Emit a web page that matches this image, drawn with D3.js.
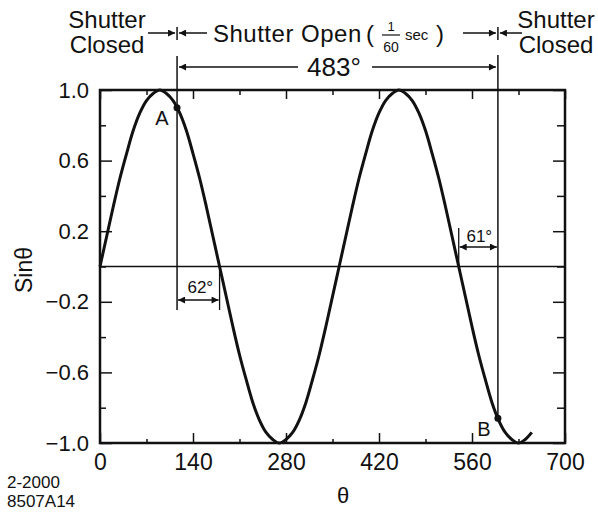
<!DOCTYPE html>
<html>
<head>
<meta charset="utf-8">
<script src="https://cdn.jsdelivr.net/npm/d3@7"></script>
<style>
  body { margin: 0; background: #fff; }
  svg { display: block; }
  text { font-family: "Liberation Sans", Arial, Helvetica, sans-serif; fill: #111; }
</style>
</head>
<body>
<svg id="chart" width="598" height="515"></svg>
<script>
// curve values (theta in degrees, sin theta)
const theta = [0, 10, 20, 30, 40, 50, 60, 70, 80, 90, 100, 110, 120, 130, 140, 150, 160, 170,
  180, 190, 200, 210, 220, 230, 240, 250, 260, 270, 280, 290, 300, 310, 320, 330, 340, 350,
  360, 370, 380, 390, 400, 410, 420, 430, 440, 450, 460, 470, 480, 490, 500, 510, 520, 530,
  540, 550, 560, 570, 580, 590, 600, 610, 620, 630, 640, 650];
const sinTheta = [0, 0.17, 0.34, 0.50, 0.64, 0.77, 0.87, 0.94, 0.98, 1.00, 0.98, 0.94, 0.87, 0.77, 0.64, 0.50, 0.34, 0.17,
  0, -0.17, -0.34, -0.50, -0.64, -0.77, -0.87, -0.94, -0.98, -1.00, -0.98, -0.94, -0.87, -0.77, -0.64, -0.50, -0.34, -0.17,
  0, 0.17, 0.34, 0.50, 0.64, 0.77, 0.87, 0.94, 0.98, 1.00, 0.98, 0.94, 0.87, 0.77, 0.64, 0.50, 0.34, 0.17,
  0, -0.17, -0.34, -0.50, -0.64, -0.77, -0.87, -0.94, -0.98, -1.00, -0.98, -0.94];

const xTickValues = [0, 70, 140, 210, 280, 350, 420, 490, 560, 630, 700];
const xTickLabels = [0, 140, 280, 420, 560, 700];
const yTickValues = [-1, -0.8, -0.6, -0.4, -0.2, 0, 0.2, 0.4, 0.6, 0.8, 1];
const yTickLabels = [1, 0.6, 0.2, -0.2, -0.6, -1];

const pointNames = ['A', 'B'];
const pointTheta = [116, 599];
const pointSin = [0.90, -0.86];

const dimFrom = [116, 540];
const dimTo = [180, 599];
const dimLabels = ['62°', '61°'];
const openLabel = '483°';

const svg = d3.select('#chart');
svg.append('rect').attr('width', 598).attr('height', 515).attr('fill', '#fff');

const x = d3.scaleLinear().domain([0, 700]).range([100, 565]);
const y = d3.scaleLinear().domain([-1, 1]).range([443, 90]);

// arrowhead
svg.append('defs').append('marker')
  .attr('id', 'arrow')
  .attr('viewBox', '0 0 10 10')
  .attr('refX', 10).attr('refY', 5)
  .attr('markerWidth', 9).attr('markerHeight', 7)
  .attr('markerUnits', 'userSpaceOnUse')
  .attr('orient', 'auto-start-reverse')
  .append('path').attr('d', 'M0,0L10,5L0,10Z').attr('fill', '#111');

// axes: ticks point inward, long ones where labelled
const isXMajor = d => xTickLabels.includes(d);
const isYMajor = d => yTickLabels.includes(d);

svg.append('g')
  .attr('transform', `translate(0,${y(-1)})`)
  .call(d3.axisBottom(x).tickValues(xTickValues).tickSize(0).tickFormat(d => isXMajor(d) ? d : ''))
  .call(g => g.select('.domain').remove())
  .call(g => g.selectAll('.tick line').attr('y2', d => isXMajor(d) ? -10 : -4).attr('stroke', '#111').attr('stroke-width', 1.5))
  .call(g => g.selectAll('.tick text').attr('y', 27).attr('dy', 0)
    .attr('font-size', 23).attr('font-family', '"Liberation Sans", Arial, sans-serif').attr('fill', '#111'));

svg.append('g')
  .attr('transform', `translate(0,${y(1)})`)
  .call(d3.axisTop(x).tickValues(xTickValues).tickSize(0).tickFormat(''))
  .call(g => g.select('.domain').remove())
  .call(g => g.selectAll('.tick line').attr('y2', d => isXMajor(d) ? 9 : 5).attr('stroke', '#111').attr('stroke-width', 1.5));

svg.append('g')
  .attr('transform', `translate(${x(0)},0)`)
  .call(d3.axisLeft(y).tickValues(yTickValues).tickSize(0).tickFormat(d => isYMajor(d) ? d3.format('.1f')(d) : ''))
  .call(g => g.select('.domain').remove())
  .call(g => g.selectAll('.tick line').attr('x2', d => isYMajor(d) ? 12 : 6).attr('stroke', '#111').attr('stroke-width', 1.5))
  .call(g => g.selectAll('.tick text').attr('x', -11)
    .attr('font-size', 22).attr('font-family', '"Liberation Sans", Arial, sans-serif').attr('fill', '#111'));

svg.append('g')
  .attr('transform', `translate(${x(700)},0)`)
  .call(d3.axisRight(y).tickValues(yTickValues).tickSize(0).tickFormat(''))
  .call(g => g.select('.domain').remove())
  .call(g => g.selectAll('.tick line').attr('x2', d => isYMajor(d) ? -12 : -8).attr('stroke', '#111').attr('stroke-width', 1.5));

// frame
svg.append('rect')
  .attr('x', x(0)).attr('y', y(1))
  .attr('width', x(700) - x(0)).attr('height', y(-1) - y(1))
  .attr('fill', 'none').attr('stroke', '#111').attr('stroke-width', 2.5);

// zero line
svg.append('line')
  .attr('x1', x(0)).attr('x2', x(700)).attr('y1', y(0)).attr('y2', y(0))
  .attr('stroke', '#111').attr('stroke-width', 1.6);

// shutter open / close lines
svg.append('line')
  .attr('x1', x(pointTheta[0])).attr('x2', x(pointTheta[0]))
  .attr('y1', 56).attr('y2', 310)
  .attr('stroke', '#111').attr('stroke-width', 1.5);
svg.append('line')
  .attr('x1', x(pointTheta[1])).attr('x2', x(pointTheta[1]))
  .attr('y1', 55).attr('y2', y(pointSin[1]))
  .attr('stroke', '#111').attr('stroke-width', 1.5);

// sine curve
const line = d3.line()
  .x(d => x(d[0]))
  .y(d => y(d[1]))
  .curve(d3.curveCatmullRom);

svg.append('path')
  .datum(d3.zip(theta, sinTheta))
  .attr('d', line)
  .attr('fill', 'none')
  .attr('stroke', '#111')
  .attr('stroke-width', 3);

// points A and B
svg.selectAll('.pt')
  .data(pointNames)
  .enter()
  .append('circle')
  .attr('cx', (d, i) => x(pointTheta[i]))
  .attr('cy', (d, i) => y(pointSin[i]))
  .attr('r', 3.5)
  .attr('fill', '#111');

svg.append('text').attr('x', 162).attr('y', 125).attr('text-anchor', 'middle').attr('font-size', 20).text(pointNames[0]);
svg.append('text').attr('x', 484).attr('y', 436).attr('text-anchor', 'middle').attr('font-size', 20).text(pointNames[1]);

// dimension arrows (62°, 61°)
const dimY = [300, 247];
const extTop = [y(0), 228];
const extBottom = [310, y(0)];
const extAt = [dimTo[0], dimFrom[1]];
const labelY = [293, 242];

dimLabels.forEach((lab, i) => {
  svg.append('line')
    .attr('x1', x(extAt[i])).attr('x2', x(extAt[i]))
    .attr('y1', extTop[i]).attr('y2', extBottom[i])
    .attr('stroke', '#111').attr('stroke-width', 1.3);
  svg.append('line')
    .attr('x1', x(dimFrom[i]) + 1).attr('x2', x(dimTo[i]) - 1)
    .attr('y1', dimY[i]).attr('y2', dimY[i])
    .attr('stroke', '#111').attr('stroke-width', 1.3)
    .attr('marker-start', 'url(#arrow)')
    .attr('marker-end', 'url(#arrow)');
  svg.append('text')
    .attr('x', (x(dimFrom[i]) + x(dimTo[i])) / 2 + (i === 1 ? 1 : 2))
    .attr('y', labelY[i])
    .attr('text-anchor', 'middle')
    .attr('font-size', 17)
    .text(lab);
});

// 483° row
const rowY = 67;
svg.append('line')
  .attr('x1', 298).attr('x2', x(pointTheta[0]) + 2)
  .attr('y1', rowY).attr('y2', rowY)
  .attr('stroke', '#111').attr('stroke-width', 1.5)
  .attr('marker-end', 'url(#arrow)');
svg.append('line')
  .attr('x1', 372).attr('x2', x(pointTheta[1]) - 2)
  .attr('y1', rowY).attr('y2', rowY)
  .attr('stroke', '#111').attr('stroke-width', 1.5)
  .attr('marker-end', 'url(#arrow)');
svg.append('text').attr('x', 334).attr('y', 76).attr('text-anchor', 'middle').attr('font-size', 26).text(openLabel);

// shutter header arrows
const headY = 33;
[[148, pointTheta[0], -2], [207, pointTheta[0], 2], [463, pointTheta[1], -2], [522, pointTheta[1], 2]].forEach(a => {
  svg.append('line')
    .attr('x1', a[0]).attr('x2', x(a[1]) + a[2])
    .attr('y1', headY).attr('y2', headY)
    .attr('stroke', '#111').attr('stroke-width', 1.5)
    .attr('marker-end', 'url(#arrow)');
});
pointTheta.forEach(t => {
  svg.append('line')
    .attr('x1', x(t)).attr('x2', x(t))
    .attr('y1', 27).attr('y2', 40)
    .attr('stroke', '#111').attr('stroke-width', 1.5);
});

// header text
[[107, 'Shutter', 28], [107, 'Closed', 53], [556, 'Shutter', 28], [556, 'Closed', 53]].forEach(t => {
  svg.append('text').attr('x', t[0]).attr('y', t[2]).attr('text-anchor', 'middle').attr('font-size', 24).text(t[1]);
});
svg.append('text').attr('x', 213).attr('y', 42).attr('font-size', 24).attr('letter-spacing', 0.5).text('Shutter Open');
svg.append('text').attr('x', 366).attr('y', 42).attr('font-size', 24).text('(');
svg.append('text').attr('x', 391).attr('y', 31).attr('text-anchor', 'middle').attr('font-size', 13).text('1');
svg.append('line').attr('x1', 382).attr('x2', 400).attr('y1', 35).attr('y2', 35).attr('stroke', '#111').attr('stroke-width', 1.2);
svg.append('text').attr('x', 391).attr('y', 52).attr('text-anchor', 'middle').attr('font-size', 14).text('60');
svg.append('text').attr('x', 405).attr('y', 40).attr('font-size', 15).text('sec');
svg.append('text').attr('x', 436).attr('y', 42).attr('font-size', 24).text(')');

// axis titles
svg.append('text')
  .attr('transform', 'translate(32,270) rotate(-90)')
  .attr('text-anchor', 'middle')
  .attr('font-size', 23)
  .text('Sinθ');
svg.append('text').attr('x', 343).attr('y', 503).attr('text-anchor', 'middle').attr('font-size', 22).text('θ');

// figure id
svg.append('text').attr('x', 7).attr('y', 488).attr('font-size', 17).text('2-2000');
svg.append('text').attr('x', 7).attr('y', 507).attr('font-size', 17).text('8507A14');
</script>
</body>
</html>
